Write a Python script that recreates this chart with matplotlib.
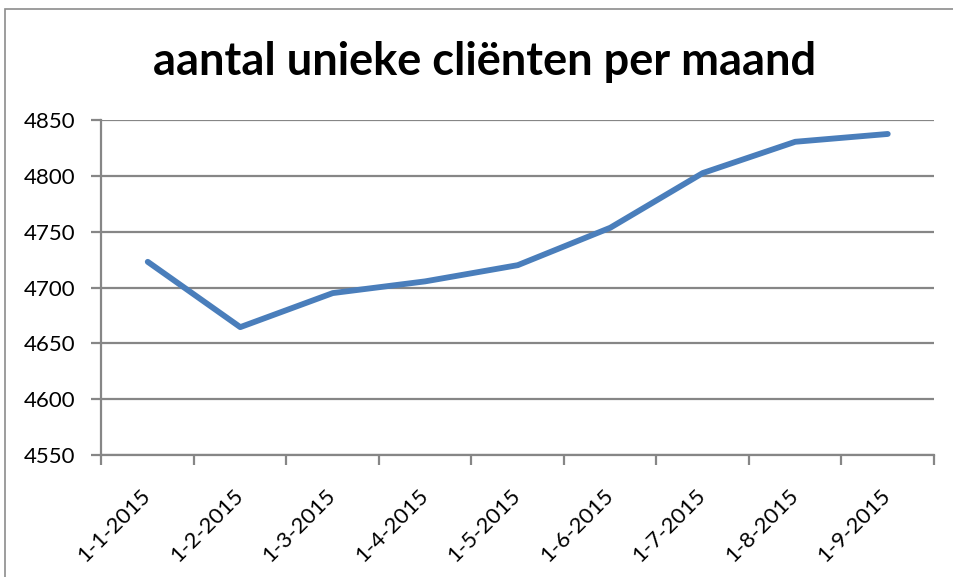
import matplotlib
matplotlib.use("Agg")
import matplotlib.pyplot as plt
from matplotlib.patches import Rectangle

categories = ["1-1-2015", "1-2-2015", "1-3-2015", "1-4-2015", "1-5-2015",
              "1-6-2015", "1-7-2015", "1-8-2015", "1-9-2015"]
values = [4723, 4664.5, 4695, 4705.5, 4720, 4753.5, 4802.5, 4830.5, 4837.5]
yticks = [4550, 4600, 4650, 4700, 4750, 4800, 4850]
title = "aantal unieke cliënten per maand"

W, H = 954, 577
fig = plt.figure(figsize=(W / 100, H / 100), dpi=100)
plt.rcParams['font.family'] = ['Lato', 'DejaVu Sans']

# outer chart border
fig.patches.append(Rectangle((5 / W, -0.1), 1.2, (H - 9) / H + 0.1,
                             transform=fig.transFigure, fill=False,
                             edgecolor="#8c8c8c", linewidth=1.2))

left, right, top, bottom = 101.5, 934, 120, 455
ax = fig.add_axes([left / W, 1 - bottom / H, (right - left) / W, (bottom - top) / H])

x = list(range(len(categories)))
ax.plot(x, values, color="#4a7ebb", linewidth=4.2, solid_capstyle="round",
        solid_joinstyle="round", zorder=3)

ax.set_xlim(-0.5, len(categories) - 0.5)
ax.set_ylim(yticks[0], yticks[-1])
ax.set_yticks(yticks)
ax.set_yticklabels([str(v) for v in yticks], fontsize=16)
ax.yaxis.grid(True, color="#868686", linewidth=1.6)
ax.set_axisbelow(True)

ax.set_xticks(x)
ax.set_xticklabels(categories, fontsize=16, rotation=45, ha="right",
                   va="center", rotation_mode="anchor")
ax.tick_params(axis="x", which="major", length=0, pad=27)
ax.set_xticks([i - 0.5 for i in range(len(categories) + 1)], minor=True)
ax.tick_params(axis="x", which="minor", length=7, width=1.6, color="#868686",
               direction="out")
ax.tick_params(axis="y", length=7, width=1.6, color="#868686", pad=12)

for s in ["top", "right"]:
    ax.spines[s].set_visible(False)
for s in ["left", "bottom"]:
    ax.spines[s].set_color("#868686")
    ax.spines[s].set_linewidth(1.6)

fig.text(485 / W, 1 - 75 / H, title, ha="center", va="baseline",
         fontsize=32.5, fontweight="bold", color="black")

fig.savefig("out.png", dpi=100)
